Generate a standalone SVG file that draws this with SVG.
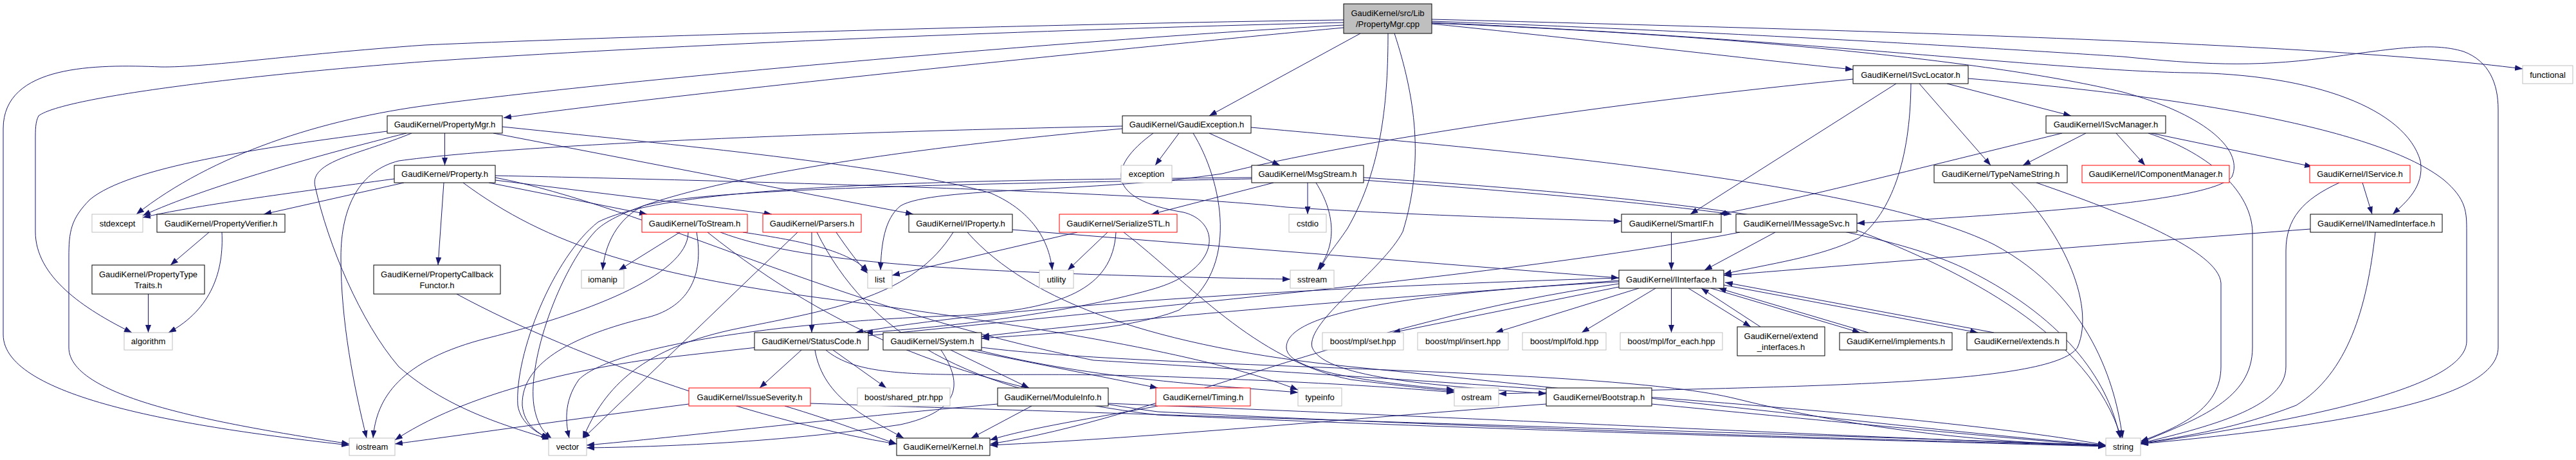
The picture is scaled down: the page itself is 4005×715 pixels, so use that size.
<svg xmlns="http://www.w3.org/2000/svg" width="4005" height="715" viewBox="0 0 4005 715">
<defs>
<style>
.k{fill:#fff;stroke:#000;stroke-width:1}
.r{fill:#fff;stroke:#ff0000;stroke-width:1}
.g{fill:#fff;stroke:#bfbfbf;stroke-width:1}
.top{fill:#bfbfbf;stroke:#000;stroke-width:1}
text{font-family:"Liberation Sans",Arial,Helvetica,sans-serif;font-size:13px;text-anchor:middle;fill:#000}
#edges path{fill:none;stroke:#191970;stroke-width:1}
</style>
<marker id="ah" viewBox="0 0 12 9" refX="12" refY="4.5" markerWidth="12" markerHeight="9" markerUnits="userSpaceOnUse" orient="auto"><path d="M0,0 L12,4.5 L0,9 Z" fill="#191970"/></marker>
</defs>
<rect x="0" y="0" width="4005" height="715" fill="#fff"/>
<g id="edges" marker-end="url(#ah)">
<path d="M2089,31 C1700,36 1000,55 660,70 C450,85 320,105 250,104 C150,100 5,100 5,200 L5,520 C5,620 300,665 543,692"/>
<path d="M2089,35 C1700,44 1100,66 670,95 C400,115 100,150 60,180 C55,190 55,200 55,220 L55,360 C55,430 130,480 205,517"/>
<path d="M2089,39 C1700,60 1000,120 670,163 C500,185 330,240 212,333"/>
<path d="M2089,43 C1800,70 1100,140 783,183"/>
<path d="M2115,52 L1880,180"/>
<path d="M2158,52 C2158,150 2150,260 2095,355 C2075,385 2060,400 2052,420"/>
<path d="M2168,52 C2200,150 2215,250 2181,360 C2150,420 2030,500 2040,540 C2060,590 2250,600 2404,612"/>
<path d="M2226,37 C2500,65 2750,95 2881,108"/>
<path d="M2226,30 C2800,45 3600,65 3922,107"/>
<path d="M2226,33 C2700,50 3100,75 3300,88 C3420,100 3500,105 3615,90 C3720,76 3780,65 3830,80 C3870,95 3884,130 3884,170 L3884,540 C3884,620 3650,660 3328,690"/>
<path d="M2226,35 C2800,60 3200,110 3400,113 C3600,115 3740,170 3763,250 C3770,290 3740,315 3720,333"/>
<path d="M2226,36 C2700,55 3100,95 3300,143 C3420,175 3490,230 3470,275 C3440,310 3200,330 2887,347"/>
<path d="M691.5,207 L691.5,257"/>
<path d="M632,207 C500,240 320,290 222,335"/>
<path d="M602,204 C400,230 200,260 140,310 C110,340 107,360 107,400 L107,540 C107,620 350,660 543,690"/>
<path d="M640,207 C560,240 480,250 490,290 C510,380 560,500 620,570 C700,640 800,665 855,683"/>
<path d="M767,207 L1420,333"/>
<path d="M781,197 C1100,230 1400,260 1540,300 C1610,330 1632,380 1636,420"/>
<path d="M613,278 C450,300 300,320 222,338"/>
<path d="M628,284 L410,333"/>
<path d="M690,284 L681,412"/>
<path d="M760,284 L1006,333"/>
<path d="M770,280 L1200,333"/>
<path d="M770,273 C1200,282 1800,300 2000,322 C2200,335 2400,340 2521,344"/>
<path d="M720,284 C850,380 1000,430 1330,470 C1700,520 1900,560 2018,606"/>
<path d="M770,276 C1000,320 1300,480 1700,560 C2200,590 3000,640 3274,692"/>
<path d="M1057,361 L962,420"/>
<path d="M1070,361 C1070,430 900,490 760,525 C620,560 585,620 580,681"/>
<path d="M1083,361 C1095,430 1070,480 1000,495 C900,520 810,560 812,630 C815,660 835,672 853,682"/>
<path d="M1155,361 C1250,375 1320,390 1350,422"/>
<path d="M1120,361 C1250,410 1500,425 2006,434"/>
<path d="M1100,361 C1300,520 1500,600 1800,640 C2400,670 3000,685 3274,693"/>
<path d="M1262,361 L1262,517"/>
<path d="M1240,361 L906,682"/>
<path d="M1300,361 C1320,390 1335,410 1349,425"/>
<path d="M1270,361 C1350,520 1500,610 1800,645 C2400,672 3000,686 3274,694"/>
<path d="M1246,544 L1181,603"/>
<path d="M1295,544 L1378,603"/>
<path d="M1267,544 C1280,620 1350,650 1405,681"/>
<path d="M1284,544 C1350,600 1500,575 1800,585 C2000,592 2150,600 2261,610"/>
<path d="M1071,628 C900,650 750,672 614,690"/>
<path d="M1220,631 C1300,655 1350,675 1394,690"/>
<path d="M1260,627 C1800,645 2800,675 3274,692"/>
<path d="M1478,544 L1600,603"/>
<path d="M1505,544 L1800,603"/>
<path d="M1463,544 C1500,600 1490,640 1400,660 C1200,690 1000,695 912,696"/>
<path d="M1520,544 C1700,590 1900,600 2018,610"/>
<path d="M1526,540 C1800,575 2500,570 2700,620 C2900,670 3100,688 3274,693"/>
<path d="M1604,631 L1510,681"/>
<path d="M1551,628 C1300,650 1050,680 912,692"/>
<path d="M1723,627 C2300,650 2900,680 3274,693"/>
<path d="M1800,631 C1700,650 1600,665 1539,684"/>
<path d="M2404,628 C2100,650 1800,680 1539,692"/>
<path d="M2568,628 C2800,650 3100,680 3274,693"/>
<path d="M2033,284 L2033,333"/>
<path d="M2046,284 C2075,330 2080,380 2048,420"/>
<path d="M1980,284 L1790,333"/>
<path d="M2120,276 C2500,300 2900,340 3060,420 C3220,500 3280,600 3296,681"/>
<path d="M2120,280 C2400,300 2600,320 2692,333"/>
<path d="M1946,278 C1600,285 1100,290 1000,320 C960,340 940,380 937,420"/>
<path d="M1946,276 C1500,280 1050,285 930,345 C860,400 800,550 805,630 C810,660 835,672 855,683"/>
<path d="M1833,207 L1796,257"/>
<path d="M1880,207 L1990,257"/>
<path d="M1745,196 C1300,205 800,225 620,250 C560,265 530,320 530,400 C530,500 550,600 570,681"/>
<path d="M1745,200 C1300,240 980,300 925,360 C870,420 820,560 830,630 C835,660 845,672 858,682"/>
<path d="M1855,207 C1900,280 1930,420 1833,482 C1750,515 1600,520 1526,526"/>
<path d="M1793,207 C1720,260 1720,310 1840,330 C1900,345 1900,420 1790,450 C1650,490 1450,510 1345,517"/>
<path d="M1945,198 C2300,230 2900,280 3100,380 C3250,460 3290,600 3300,681"/>
<path d="M1675,361 L1387,428"/>
<path d="M1722,361 L1660,420"/>
<path d="M1735,361 C1730,450 1650,480 1500,490 C1200,500 950,540 900,590 C875,625 880,660 885,681"/>
<path d="M1747,361 C1850,440 1950,560 2100,590 C2180,600 2230,605 2261,608"/>
<path d="M1574,357 L2517,432"/>
<path d="M1482,361 C1420,460 1300,480 1150,510 C1000,540 940,600 906,682"/>
<path d="M1504,361 C1600,470 1800,540 2100,570 C2600,620 3000,670 3274,692"/>
<path d="M2598.5,361 L2598.5,420"/>
<path d="M2760,361 L2650,420"/>
<path d="M2887,358 C3050,420 3250,520 3298,681"/>
<path d="M2705,361 C2300,440 1500,500 1000,560 C800,590 680,640 614,684"/>
<path d="M2948,130 L2628,333"/>
<path d="M2971,130 C2970,250 2940,330 2890,370 C2830,400 2750,410 2680,426"/>
<path d="M2984,130 L3095,257"/>
<path d="M3027,130 L3220,180"/>
<path d="M3060,122 C3400,150 3700,200 3800,280 C3835,310 3835,330 3835,360 L3835,530 C3835,600 3600,650 3328,690"/>
<path d="M2881,123 C2500,160 2100,220 1900,270 C1700,300 1450,290 1400,320 C1375,340 1370,380 1369,420"/>
<path d="M3290,207 L3335,257"/>
<path d="M3345,207 L3595,259"/>
<path d="M3243,207 L3145,257"/>
<path d="M3206,207 C2950,270 2750,320 2672,333"/>
<path d="M3340,207 C3440,240 3500,300 3502,360 L3502,540 C3502,620 3420,650 3328,688"/>
<path d="M3166,284 C3300,330 3450,390 3453,440 L3453,570 C3453,630 3400,660 3328,686"/>
<path d="M3127,284 C3200,350 3260,470 3230,540 C3190,600 2800,600 2330,612"/>
<path d="M3673,284 L3688,333"/>
<path d="M3637,284 C3580,310 3554,340 3554,390 L3554,570 C3554,630 3450,660 3328,689"/>
<path d="M3592,356 C3300,378 2900,410 2680,428"/>
<path d="M3693,361 C3680,480 3650,580 3570,630 C3480,665 3400,678 3328,689"/>
<path d="M2517,446 L2165,517"/>
<path d="M2548,448 L2325,517"/>
<path d="M2574,448 L2459,517"/>
<path d="M2598.5,448 L2598.5,517"/>
<path d="M2625,448 L2722,508"/>
<path d="M2737,508 L2645,448"/>
<path d="M2660,448 L2892,517"/>
<path d="M2905,517 L2672,448"/>
<path d="M2680,443 L3075,517"/>
<path d="M3100,517 L2682,439"/>
<path d="M2517,432 C2100,445 1600,470 1330,517"/>
<path d="M2517,436 C2200,460 1800,490 1526,523"/>
<path d="M2517,441 C2100,500 1800,650 1540,690"/>
<path d="M2517,438 C2100,460 2000,500 2000,540 C2000,580 2150,595 2261,606"/>
<path d="M325,361 L265,412"/>
<path d="M345,361 C348,420 330,480 262,517"/>
<path d="M230.5,457 L230.5,517"/>
<path d="M710,457 C900,560 1200,660 1394,690"/>
</g>
<g id="n-cpp"><rect class="top" x="2089" y="6" width="137" height="46"/><text x="2157.5" y="25">GaudiKernel/src/Lib</text><text x="2157.5" y="42">/PropertyMgr.cpp</text></g>
<g id="n-ISvcLocator"><rect class="k" x="2881" y="102" width="179" height="28"/><text x="2970.5" y="120.5">GaudiKernel/ISvcLocator.h</text></g>
<g id="n-functional"><rect class="g" x="3922" y="102" width="78" height="28"/><text x="3961" y="120.5">functional</text></g>
<g id="n-PropertyMgr"><rect class="k" x="602" y="180" width="179" height="27"/><text x="691.5" y="198">GaudiKernel/PropertyMgr.h</text></g>
<g id="n-GaudiException"><rect class="k" x="1745" y="180" width="200" height="27"/><text x="1845" y="198">GaudiKernel/GaudiException.h</text></g>
<g id="n-ISvcManager"><rect class="k" x="3181" y="180" width="186" height="27"/><text x="3274" y="198">GaudiKernel/ISvcManager.h</text></g>
<g id="n-Property"><rect class="k" x="613" y="257" width="157" height="27"/><text x="691.5" y="275">GaudiKernel/Property.h</text></g>
<g id="n-exception"><rect class="g" x="1743" y="257" width="79" height="27"/><text x="1782.5" y="275">exception</text></g>
<g id="n-MsgStream"><rect class="k" x="1946" y="257" width="174" height="27"/><text x="2033" y="275">GaudiKernel/MsgStream.h</text></g>
<g id="n-TypeNameString"><rect class="k" x="3007" y="257" width="207" height="27"/><text x="3110.5" y="275">GaudiKernel/TypeNameString.h</text></g>
<g id="n-IComponentManager"><rect class="r" x="3237" y="257" width="229" height="27"/><text x="3351.5" y="275">GaudiKernel/IComponentManager.h</text></g>
<g id="n-IService"><rect class="r" x="3591" y="257" width="156" height="27"/><text x="3669" y="275">GaudiKernel/IService.h</text></g>
<g id="n-stdexcept"><rect class="g" x="143" y="333" width="79" height="28"/><text x="182.5" y="351.5">stdexcept</text></g>
<g id="n-PropertyVerifier"><rect class="k" x="244" y="333" width="199" height="28"/><text x="343.5" y="351.5">GaudiKernel/PropertyVerifier.h</text></g>
<g id="n-ToStream"><rect class="r" x="998" y="333" width="164" height="28"/><text x="1080" y="351.5">GaudiKernel/ToStream.h</text></g>
<g id="n-Parsers"><rect class="r" x="1186" y="333" width="153" height="28"/><text x="1262.5" y="351.5">GaudiKernel/Parsers.h</text></g>
<g id="n-IProperty"><rect class="k" x="1413" y="333" width="161" height="28"/><text x="1493.5" y="351.5">GaudiKernel/IProperty.h</text></g>
<g id="n-SerializeSTL"><rect class="r" x="1647" y="333" width="183" height="28"/><text x="1738.5" y="351.5">GaudiKernel/SerializeSTL.h</text></g>
<g id="n-cstdio"><rect class="g" x="2004" y="333" width="58" height="28"/><text x="2033" y="351.5">cstdio</text></g>
<g id="n-SmartIF"><rect class="k" x="2521" y="333" width="155" height="28"/><text x="2598.5" y="351.5">GaudiKernel/SmartIF.h</text></g>
<g id="n-IMessageSvc"><rect class="k" x="2699" y="333" width="188" height="28"/><text x="2793" y="351.5">GaudiKernel/IMessageSvc.h</text></g>
<g id="n-INamedInterface"><rect class="k" x="3592" y="333" width="205" height="28"/><text x="3694.5" y="351.5">GaudiKernel/INamedInterface.h</text></g>
<g id="n-PropertyTypeTraits"><rect class="k" x="143" y="412" width="175" height="45"/><text x="230.5" y="430.5">GaudiKernel/PropertyType</text><text x="230.5" y="447.5">Traits.h</text></g>
<g id="n-PropertyCallbackFunctor"><rect class="k" x="581" y="412" width="197" height="45"/><text x="679.5" y="430.5">GaudiKernel/PropertyCallback</text><text x="679.5" y="447.5">Functor.h</text></g>
<g id="n-iomanip"><rect class="g" x="904" y="420" width="66" height="28"/><text x="937" y="438.5">iomanip</text></g>
<g id="n-list"><rect class="g" x="1349" y="420" width="38" height="28"/><text x="1368" y="438.5">list</text></g>
<g id="n-utility"><rect class="g" x="1616" y="420" width="53" height="28"/><text x="1642.5" y="438.5">utility</text></g>
<g id="n-sstream"><rect class="g" x="2006" y="420" width="68" height="28"/><text x="2040" y="438.5">sstream</text></g>
<g id="n-IInterface"><rect class="k" x="2517" y="420" width="163" height="28"/><text x="2598.5" y="438.5">GaudiKernel/IInterface.h</text></g>
<g id="n-algorithm"><rect class="g" x="193" y="517" width="75" height="27"/><text x="230.5" y="535">algorithm</text></g>
<g id="n-StatusCode"><rect class="k" x="1173" y="517" width="177" height="27"/><text x="1261.5" y="535">GaudiKernel/StatusCode.h</text></g>
<g id="n-System"><rect class="k" x="1373" y="517" width="153" height="27"/><text x="1449.5" y="535">GaudiKernel/System.h</text></g>
<g id="n-mpl-set"><rect class="g" x="2056" y="517" width="126" height="27"/><text x="2119" y="535">boost/mpl/set.hpp</text></g>
<g id="n-mpl-insert"><rect class="g" x="2204" y="517" width="141" height="27"/><text x="2274.5" y="535">boost/mpl/insert.hpp</text></g>
<g id="n-mpl-fold"><rect class="g" x="2367" y="517" width="130" height="27"/><text x="2432" y="535">boost/mpl/fold.hpp</text></g>
<g id="n-mpl-for_each"><rect class="g" x="2519" y="517" width="159" height="27"/><text x="2598.5" y="535">boost/mpl/for_each.hpp</text></g>
<g id="n-extend_interfaces"><rect class="k" x="2701" y="508" width="136" height="45"/><text x="2769" y="526.5">GaudiKernel/extend</text><text x="2769" y="543.5">_interfaces.h</text></g>
<g id="n-implements"><rect class="k" x="2860" y="517" width="175" height="27"/><text x="2947.5" y="535">GaudiKernel/implements.h</text></g>
<g id="n-extends"><rect class="k" x="3058" y="517" width="155" height="27"/><text x="3135.5" y="535">GaudiKernel/extends.h</text></g>
<g id="n-IssueSeverity"><rect class="r" x="1071" y="603" width="189" height="28"/><text x="1165.5" y="621.5">GaudiKernel/IssueSeverity.h</text></g>
<g id="n-shared_ptr"><rect class="g" x="1333" y="603" width="144" height="28"/><text x="1405" y="621.5">boost/shared_ptr.hpp</text></g>
<g id="n-ModuleInfo"><rect class="k" x="1551" y="603" width="172" height="28"/><text x="1637" y="621.5">GaudiKernel/ModuleInfo.h</text></g>
<g id="n-Timing"><rect class="r" x="1797" y="603" width="147" height="28"/><text x="1870.5" y="621.5">GaudiKernel/Timing.h</text></g>
<g id="n-typeinfo"><rect class="g" x="2018" y="603" width="68" height="28"/><text x="2052" y="621.5">typeinfo</text></g>
<g id="n-ostream"><rect class="g" x="2261" y="603" width="69" height="28"/><text x="2295.5" y="621.5">ostream</text></g>
<g id="n-Bootstrap"><rect class="k" x="2404" y="603" width="164" height="28"/><text x="2486" y="621.5">GaudiKernel/Bootstrap.h</text></g>
<g id="n-iostream"><rect class="g" x="543" y="681" width="71" height="27"/><text x="578.5" y="699">iostream</text></g>
<g id="n-vector"><rect class="g" x="853" y="681" width="59" height="27"/><text x="882.5" y="699">vector</text></g>
<g id="n-Kernel"><rect class="k" x="1394" y="681" width="145" height="27"/><text x="1466.5" y="699">GaudiKernel/Kernel.h</text></g>
<g id="n-string"><rect class="g" x="3274" y="681" width="54" height="27"/><text x="3301" y="699">string</text></g>
</svg>
